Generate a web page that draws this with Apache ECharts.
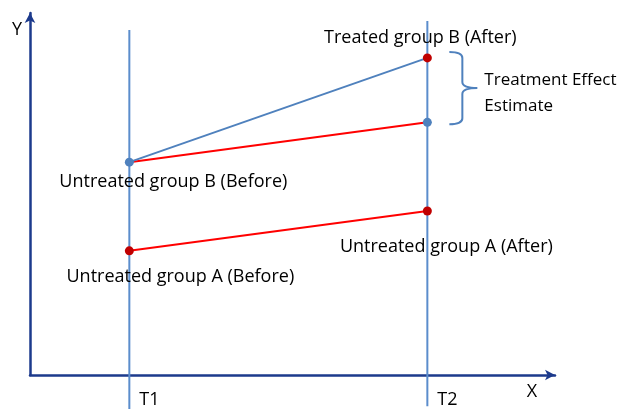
<!DOCTYPE html>
<html>
<head>
<meta charset="utf-8">
<script src="https://cdn.jsdelivr.net/npm/echarts@6/dist/echarts.min.js"></script>
<style>html,body{margin:0;padding:0;background:#fff}#c{width:625px;height:409px}</style>
</head>
<body>
<div id="c"></div>
<script>
// Time points on the X axis
const timeLabels = ['T1', 'T2'];
const timeValues = [1, 4];
// Y values at T1 and T2 (0-100 scale)
const untreatedA = [34.3, 45.3];
const untreatedB = [58.8, 69.8];   // counterfactual path of group B
const treatedB = [58.8, 87.6];     // observed path of group B
// vertical time-line extents [top, bottom]
const t1Extent = [95.3, -9.4];
const t2Extent = [97.8, -8.6];
// point labels
const labelAB = 'Untreated group A (Before)';
const labelAA = 'Untreated group A (After)';
const labelBB = 'Untreated group B (Before)';
const labelBA = 'Treated group B (After)';
const effectLabel = 'Treatment Effect\nEstimate';

const FONT = 'Open Sans';
const FS = 18;
const axisColor = '#1c3a8c';
const vColor = '#5b8dcc';
const blue = '#4f81bd';
const red = '#ff0000';
const darkRed = '#c00000';
const ink = '#000';

const chart = echarts.init(document.getElementById('c'), null, {renderer: 'canvas'});

const txt = {fontFamily: FONT, fontSize: FS, color: ink, textBorderWidth: 0, opacity: 1};

const option = {
  animation: false,
  grid: {left: 30, right: 70, top: 13, bottom: 34, containLabel: false},
  xAxis: {
    type: 'value', min: 0, max: 5.285,
    axisLine: {show: true, lineStyle: {color: axisColor, width: 2.5}, symbol: ['none', 'arrow'], symbolSize: [8, 10]},
    axisTick: {show: false}, axisLabel: {show: false}, splitLine: {show: false}
  },
  yAxis: {
    type: 'value', min: 0, max: 100,
    axisLine: {show: true, lineStyle: {color: axisColor, width: 2.5}, symbol: ['none', 'arrow'], symbolSize: [8, 10]},
    axisTick: {show: false}, axisLabel: {show: false}, splitLine: {show: false}
  },
  series: [
    {type: 'line', clip: false, symbol: 'none', silent: true,
     data: [[timeValues[0], t1Extent[0]], [timeValues[0], t1Extent[1]]],
     lineStyle: {color: vColor, width: 2}},
    {type: 'line', clip: false, symbol: 'none', silent: true,
     data: [[timeValues[1], t2Extent[0]], [timeValues[1], t2Extent[1]]],
     lineStyle: {color: vColor, width: 2}},
    {type: 'line', symbol: 'none', data: timeValues.map((t, i) => [t, untreatedA[i]]),
     lineStyle: {color: red, width: 2}},
    {type: 'line', symbol: 'none', data: timeValues.map((t, i) => [t, untreatedB[i]]),
     lineStyle: {color: red, width: 2}},
    {type: 'line', symbol: 'none', data: timeValues.map((t, i) => [t, treatedB[i]]),
     lineStyle: {color: blue, width: 2}},
    {type: 'scatter', symbolSize: 9, z: 5,
     itemStyle: {opacity: 1},
     label: {show: true, ...txt},
     data: [
       {value: [timeValues[0], untreatedA[0]], itemStyle: {color: darkRed},
        label: {formatter: labelAB, position: 'inside', offset: [51, 26]}},
       {value: [timeValues[1], untreatedA[1]], itemStyle: {color: darkRed},
        label: {formatter: labelAA, position: 'inside', offset: [19, 36]}},
       {value: [timeValues[0], untreatedB[0]], itemStyle: {color: blue},
        label: {formatter: labelBB, position: 'inside', offset: [44, 20]}},
       {value: [timeValues[1], untreatedB[1]], itemStyle: {color: blue},
        label: {show: false}},
       {value: [timeValues[1], treatedB[1]], itemStyle: {color: darkRed},
        label: {formatter: labelBA, position: 'inside', offset: [-7, -20]}}
     ]},
    // bracket marking the treatment effect between treated and counterfactual
    {type: 'custom', silent: true, clip: false,
     data: [[timeValues[1], treatedB[1], untreatedB[1]]],
     renderItem: function (params, api) {
       const pT = api.coord([api.value(0), api.value(1)]);
       const pB = api.coord([api.value(0), api.value(2)]);
       const bLeft = pT[0] + 22, bVx = pT[0] + 35, bTip = pT[0] + 50;
       const bTop = pT[1] - 6, bBot = pB[1] + 2, bMid = (bTop + bBot) / 2;
       const r = 6;
       const d = `M${bLeft},${bTop} Q${bVx},${bTop} ${bVx},${bTop + r} L${bVx},${bMid - r} Q${bVx},${bMid} ${bTip},${bMid} Q${bVx},${bMid} ${bVx},${bMid + r} L${bVx},${bBot - r} Q${bVx},${bBot} ${bLeft},${bBot}`;
       return {
         type: 'group',
         children: [
           {type: 'path', shape: {pathData: d}, style: {fill: null, stroke: blue, lineWidth: 2}},
           {type: 'text', x: bTip + 7, y: bMid - 21,
            style: {text: effectLabel, font: `17px "${FONT}"`, fill: ink, lineHeight: 26}}
         ]
       };
     }}
  ]
};
chart.setOption(option);

const px = (x, y) => chart.convertToPixel({gridIndex: 0}, [x, y]);
const o = px(0, 0);
const xEnd = px(5.285, 0);
const yEnd = px(0, 100);
const t1 = px(timeValues[0], 0), t2 = px(timeValues[1], 0);
const f = `${FS}px "${FONT}"`;

chart.setOption({
  graphic: [
    {type: 'text', x: t1[0] + 10, y: o[1] + 25, style: {text: timeLabels[0], font: f, fill: ink, verticalAlign: 'middle'}},
    {type: 'text', x: t2[0] + 10, y: o[1] + 25, style: {text: timeLabels[1], font: f, fill: ink, verticalAlign: 'middle'}},
    {type: 'text', x: xEnd[0] - 23, y: o[1] + 17, style: {text: 'X', font: f, fill: ink, align: 'center', verticalAlign: 'middle'}},
    {type: 'text', x: yEnd[0] - 13, y: yEnd[1] + 17, style: {text: 'Y', font: f, fill: ink, align: 'center', verticalAlign: 'middle'}}
  ]
});
</script>
</body>
</html>
